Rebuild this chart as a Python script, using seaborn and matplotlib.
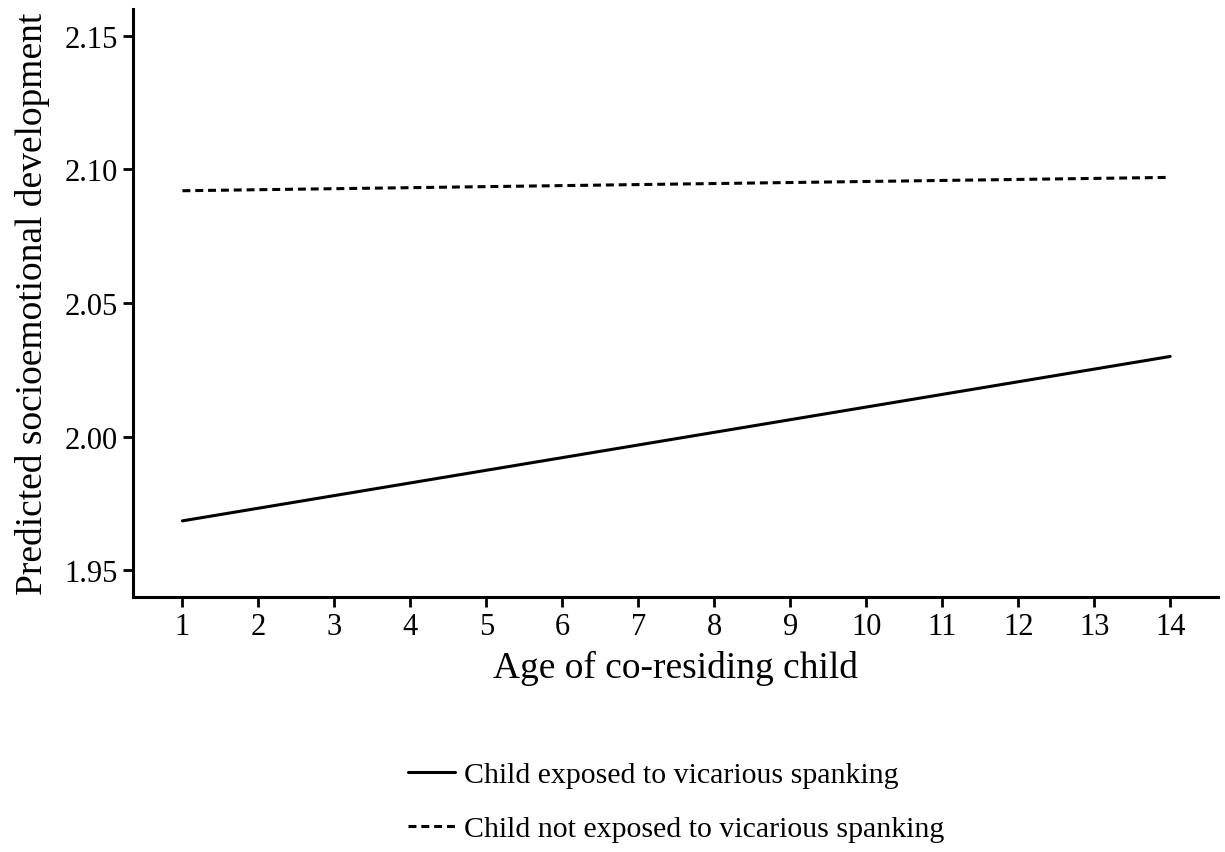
import matplotlib
matplotlib.use("Agg")
import matplotlib.pyplot as plt
import seaborn as sns
import pandas as pd

ages = [1, 14]
exposed = [1.9685, 2.0300]
not_exposed = [2.0920, 2.0970]
series_labels = ["Child exposed to vicarious spanking",
                 "Child not exposed to vicarious spanking"]
yticks = [1.95, 2.00, 2.05, 2.10, 2.15]
xticks = list(range(1, 15))

df = pd.DataFrame({
    "age": ages + ages,
    "value": exposed + not_exposed,
    "group": [series_labels[0]] * len(ages) + [series_labels[1]] * len(ages),
})

sns.set_theme(style="ticks")
plt.rcParams["font.family"] = ["Liberation Serif", "DejaVu Serif"]

fig = plt.figure(figsize=(12.25, 8.53), dpi=100)
ax = fig.add_axes([0.1086, 0.2989, 0.8857, 0.6894])

sns.lineplot(data=df, x="age", y="value", hue="group", style="group",
             palette={series_labels[0]: "black", series_labels[1]: "black"},
             dashes={series_labels[0]: "", series_labels[1]: (2.6, 1.6)},
             linewidth=2.2, ax=ax, legend=True)

ax.set_xlim(0.35, 14.63)
ax.set_ylim(1.94, 2.16)
ax.set_xticks(xticks)
ax.set_yticks(yticks)
ax.set_yticklabels([f"{v:.2f}" for v in yticks])
ax.tick_params(axis="both", labelsize=22, width=2, length=7, color="black",
               labelcolor="black", direction="out", pad=4)
for s in ["top", "right"]:
    ax.spines[s].set_visible(False)
for s in ["left", "bottom"]:
    ax.spines[s].set_linewidth(2.2)
    ax.spines[s].set_color("black")

ax.set_xlabel("Age of co-residing child", fontsize=27, color="black", labelpad=6)
ax.set_ylabel("Predicted socioemotional development", fontsize=27, color="black", labelpad=10)

handles, labels = ax.get_legend_handles_labels()
ax.get_legend().remove()
fig.legend(handles, labels, loc="center", bbox_to_anchor=(0.552, 0.059),
           frameon=False, fontsize=21.5, labelspacing=0.9, handlelength=1.55,
           handletextpad=0.3, labelcolor="black")

fig.savefig("out.png", dpi=100)
